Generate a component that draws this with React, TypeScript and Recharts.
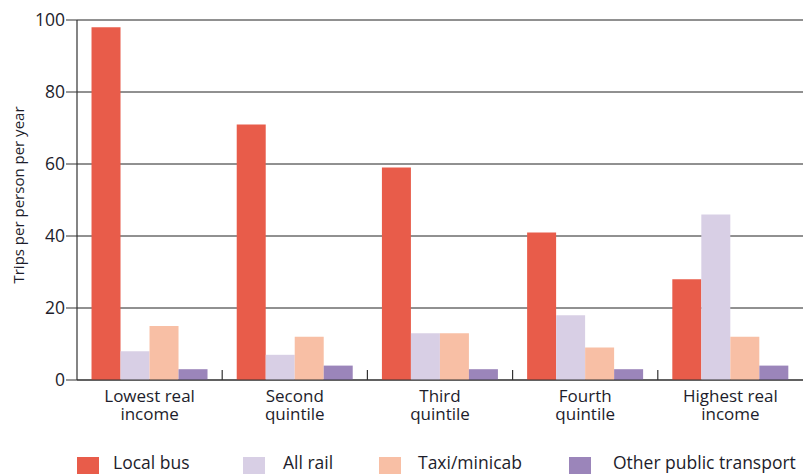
import React from 'react';
import {
  BarChart,
  Bar,
  XAxis,
  YAxis,
  CartesianGrid,
} from 'recharts';

const categories = [
  'Lowest real\nincome',
  'Second\nquintile',
  'Third\nquintile',
  'Fourth\nquintile',
  'Highest real\nincome',
];
const localBus = [98, 71, 59, 41, 28];
const allRail = [8, 7, 13, 18, 46];
const taxiMinicab = [15, 12, 13, 9, 12];
const otherPublic = [3, 4, 3, 3, 4];
const yTicks = [0, 20, 40, 60, 80, 100];

const series = [
  { key: 'bus', name: 'Local bus', color: '#E85C4A', values: localBus },
  { key: 'rail', name: 'All rail', color: '#D8CFE5', values: allRail },
  { key: 'taxi', name: 'Taxi/minicab', color: '#F8BFA5', values: taxiMinicab },
  { key: 'other', name: 'Other public transport', color: '#9B85BA', values: otherPublic },
];

const data = categories.map((name, i) => {
  const row: Record<string, string | number> = { name };
  series.forEach((s) => {
    row[s.key] = s.values[i];
  });
  return row;
});

const FONT = '"Open Sans", sans-serif';
const TEXT = '#1d1d2b';

// label under each group, plus the short divider tick at the left edge of the band
const CategoryTick = (props: any) => {
  const { x, y, payload, index } = props;
  const lines = String(payload.value).split('\n');
  const left = x - (payload.offset || 0);
  return (
    <g>
      {index > 0 && (
        <line x1={left} x2={left} y1={y - 10} y2={y} stroke="#333" strokeWidth={1.2} />
      )}
      <text x={x} y={y} textAnchor="middle" fill={TEXT} fontSize={17} fontFamily={FONT}>
        {lines.map((l, i) => (
          <tspan key={i} x={x} dy={i === 0 ? 22 : 18}>
            {l}
          </tspan>
        ))}
      </text>
    </g>
  );
};

// legend swatch and text offsets
const legendSwatchX = [77, 243, 379, 569];
const legendTextX = [113, 283, 418, 613];

export default function App() {
  return (
    <div style={{ position: 'absolute', left: 0, top: 0, width: 803, height: 474, background: '#fff', overflow: 'hidden' }}>
      <BarChart
        width={803}
        height={474}
        data={data}
        margin={{ top: 20, right: 0, left: 0, bottom: 0 }}
        barCategoryGap="10%"
        barGap={0}
      >
        <CartesianGrid vertical={false} stroke="#222" strokeWidth={1} />
        <XAxis
          dataKey="name"
          height={94}
          interval={0}
          tickSize={0}
          tickMargin={0}
          tickLine={false}
          axisLine={{ stroke: '#333', strokeWidth: 1.2 }}
          tick={<CategoryTick />}
        />
        <YAxis
          width={77}
          domain={[0, 100]}
          ticks={yTicks}
          tickSize={11}
          tickMargin={1}
          axisLine={{ stroke: '#333', strokeWidth: 1.2 }}
          tickLine={{ stroke: '#333' }}
          tick={{ fill: TEXT, fontSize: 17.5, fontFamily: FONT }}
          label={{
            content: () => (
              <text
                x={20}
                y={195}
                transform="rotate(-90, 20, 195)"
                textAnchor="middle"
                dominantBaseline="middle"
                fill={TEXT}
                fontSize={15}
                fontFamily={FONT}
              >
                Trips per person per year
              </text>
            ),
          }}
        />
        {series.map((s) => (
          <Bar key={s.key} dataKey={s.key} name={s.name} fill={s.color} isAnimationActive={false} />
        ))}
      </BarChart>
      <div style={{ position: 'absolute', left: 0, top: 451, width: 803, height: 22, fontFamily: FONT, fontSize: 17.5, color: TEXT }}>
        {series.map((s, i) => (
          <React.Fragment key={s.key}>
            <span style={{ position: 'absolute', left: legendSwatchX[i], top: 6, width: 22, height: 17, background: s.color }} />
            <span style={{ position: 'absolute', left: legendTextX[i], top: 0, lineHeight: '22px', whiteSpace: 'nowrap' }}>{s.name}</span>
          </React.Fragment>
        ))}
      </div>
    </div>
  );
}
